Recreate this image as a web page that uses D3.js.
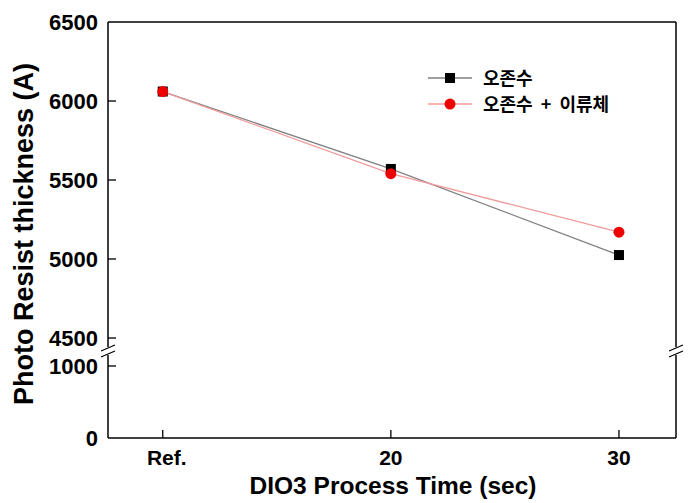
<!DOCTYPE html>
<html><head><meta charset="utf-8">
<script src="https://cdn.jsdelivr.net/npm/d3@7"></script>
<style>body{margin:0;background:#fff}svg{display:block}</style>
</head><body>
<script>
const categories = ["Ref.", "20", "30"];
const seriesNames = ["오존수", "오존수 + 이류체"];
const ozoneWater = [6060, 5570, 5025];
const ozoneTwoFluid = [6060, 5540, 5170];
const upperTicks = [4500, 5000, 5500, 6000, 6500];
const lowerTicks = [0, 1000];

const W = 692, H = 503;
const L = 108, R = 676, T = 22, B = 438, BRK = 351;
const svg = d3.select("body").append("svg").attr("width", W).attr("height", H);
const font = "'Liberation Sans', Arial, sans-serif";

const x = d3.scaleLinear().domain([-0.24, 2.25]).range([L, R]);
const yU = d3.scaleLinear().domain([4500, 6500]).range([338, T]);
const yL = d3.scaleLinear().domain([0, 1000]).range([B, 366]);
const y = v => v >= 3000 ? yU(v) : yL(v);

// frame
const g = svg.append("g");
g.append("line").attr("x1", L).attr("x2", R).attr("y1", T).attr("y2", T).attr("stroke", "#000").attr("stroke-width", 1.5);
g.append("line").attr("x1", L).attr("x2", R).attr("y1", B).attr("y2", B).attr("stroke", "#000").attr("stroke-width", 1.5);
[L, R].forEach(xx => {
  g.append("line").attr("x1", xx).attr("x2", xx).attr("y1", T).attr("y2", BRK - 4).attr("stroke", "#000").attr("stroke-width", 1.5);
  g.append("line").attr("x1", xx).attr("x2", xx).attr("y1", BRK + 4).attr("y2", B).attr("stroke", "#000").attr("stroke-width", 1.5);
  [-3, 3].forEach(d => g.append("line").attr("x1", xx - 7).attr("x2", xx + 7).attr("y1", BRK + d + 3).attr("y2", BRK + d - 3).attr("stroke", "#000").attr("stroke-width", 1.3));
});

// y ticks
const yTickData = upperTicks.map(v => ({v, p: yU(v)})).concat(lowerTicks.map(v => ({v, p: yL(v)})));
yTickData.forEach(d => {
  if (d.v !== 6500 && d.v !== 0) g.append("line").attr("x1", L).attr("x2", L + 8).attr("y1", d.p).attr("y2", d.p).attr("stroke", "#000").attr("stroke-width", 1.3);
  g.append("text").attr("x", L - 10).attr("y", d.p).attr("dy", "0.36em").attr("text-anchor", "end")
    .attr("font-family", font).attr("font-weight", "bold").attr("font-size", 22).text(d.v);
});

// x ticks
categories.forEach((c, i) => {
  g.append("line").attr("x1", x(i)).attr("x2", x(i)).attr("y1", B).attr("y2", B - 8).attr("stroke", "#000").attr("stroke-width", 1.3);
  g.append("text").attr("x", x(i) + (i === 0 ? 4 : 0)).attr("y", B + 27).attr("text-anchor", "middle")
    .attr("font-family", font).attr("font-weight", "bold").attr("font-size", 21).text(c);
});

// titles
svg.append("text").attr("x", 393).attr("y", 494).attr("text-anchor", "middle")
  .attr("font-family", font).attr("font-weight", "bold").attr("font-size", 24.5).text("DIO3 Process Time (sec)");
svg.append("text").attr("transform", "translate(33,234) rotate(-90)").attr("text-anchor", "middle")
  .attr("font-family", font).attr("font-weight", "bold").attr("font-size", 27).text("Photo Resist thickness (A)");

// series
const line = d3.line().x((d, i) => x(i)).y(d => y(d));
const series = [
  {name: seriesNames[0], data: ozoneWater, line: "#808080", fill: "#000", shape: "square"},
  {name: seriesNames[1], data: ozoneTwoFluid, line: "#f29a9a", fill: "#ee0000", shape: "circle"}
];
series.forEach(s => {
  svg.append("path").datum(s.data).attr("d", line).attr("fill", "none").attr("stroke", s.line).attr("stroke-width", 1.3);
});
function marker(sel, s, cx, cy) {
  if (s.shape === "square") sel.append("rect").attr("x", cx - 5).attr("y", cy - 5).attr("width", 10).attr("height", 10).attr("fill", s.fill);
  else sel.append("circle").attr("cx", cx).attr("cy", cy).attr("r", 5.5).attr("fill", s.fill);
}
series.forEach(s => s.data.forEach((v, i) => marker(svg, s, x(i), y(v))));

// legend
series.forEach((s, i) => {
  const ly = 78 + i * 26;
  svg.append("line").attr("x1", 428).attr("x2", 472).attr("y1", ly).attr("y2", ly).attr("stroke", s.line).attr("stroke-width", 1.3);
  marker(svg, s, 450, ly);
  svg.append("text").attr("x", 483).attr("y", ly).attr("dy", "0.38em").style("word-spacing", "4px")
    .attr("font-family", "'Noto Sans CJK KR', sans-serif").attr("font-weight", "bold").attr("font-size", 18).text(s.name);
});
</script>
</body></html>
